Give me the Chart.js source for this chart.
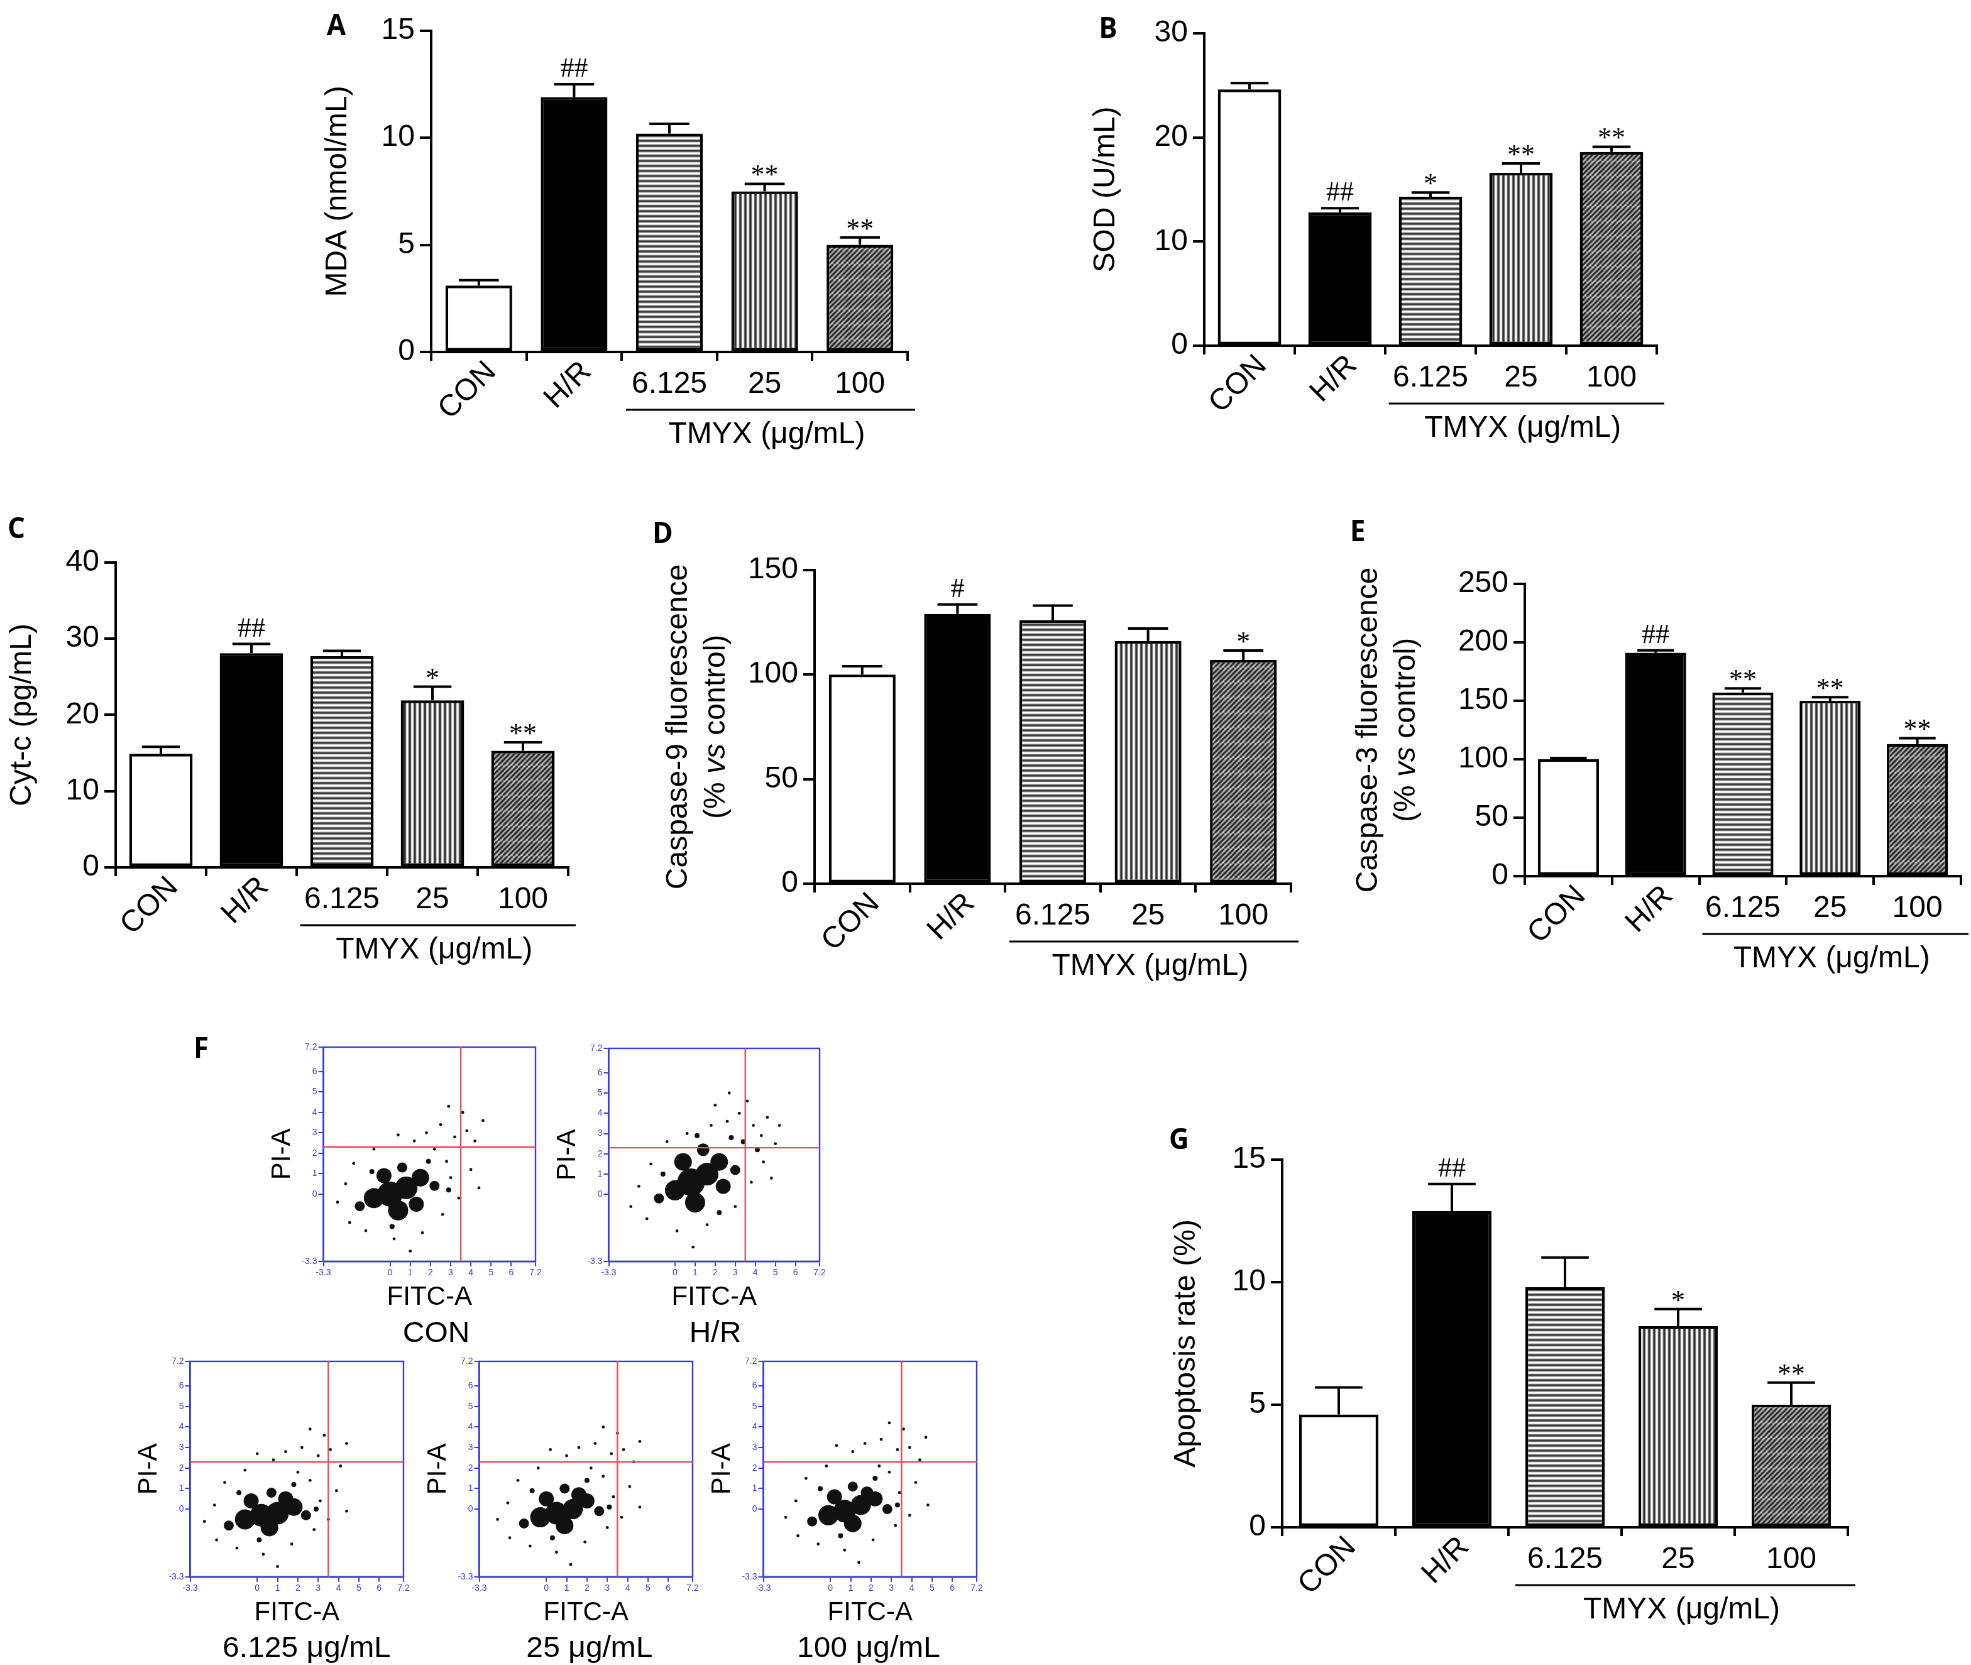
<!DOCTYPE html>
<html lang="en">
<head>
<meta charset="UTF-8">
<title>TMYX panels</title>
<script src="https://cdn.jsdelivr.net/npm/chart.js"></script>
<style>
  html, body { margin: 0; background: #fff; }
  #page { position: relative; width: 1971px; height: 1665px; overflow: hidden; }
  #wrap { position: absolute; left: 0; top: 0; width: 1568px; height: 1325px; transform: scale(1.25702); transform-origin: 0 0; font-family: "Liberation Sans", Arial, sans-serif; }
  .lbl { position: absolute; font-weight: bold; font-size: 22px; font-family: "Open Sans", "Liberation Sans", sans-serif; }
  .cap { position: absolute; font-size: 24px; transform: translateX(-50%); white-space: nowrap; }
  canvas { position: absolute; }
</style>
</head>
<body>
<div id="page">
<div id="wrap">
  <div class="lbl" style="left:260px;top:4px">A</div>
  <div class="lbl" style="left:874px;top:6px">B</div>
  <div class="lbl" style="left:6px;top:404px">C</div>
  <div class="lbl" style="left:519px;top:408px">D</div>
  <div class="lbl" style="left:1074px;top:406px">E</div>
  <div class="lbl" style="left:154px;top:818px">F</div>
  <div class="lbl" style="left:930px;top:890px">G</div>
  <div class="cap" style="left:347px;top:1046px">CON</div>
  <div class="cap" style="left:569px;top:1046px">H/R</div>
  <div class="cap" style="left:244px;top:1296px">6.125 μg/mL</div>
  <div class="cap" style="left:469px;top:1296px">25 μg/mL</div>
  <div class="cap" style="left:691px;top:1296px">100 μg/mL</div>
</div>
</div>
<script>
const categories = ['CON', 'H/R', '6.125', '25', '100'];

const mdaValues = [3.1, 11.9, 10.2, 7.5, 5.0];
const mdaErrors = [0.25, 0.6, 0.45, 0.35, 0.35];
const mdaMarks = ['', '##', '', '**', '**'];

const sodValues = [24.6, 12.8, 14.3, 16.6, 18.6];
const sodErrors = [0.6, 0.4, 0.4, 0.9, 0.5];
const sodMarks = ['', '##', '*', '**', '**'];

const cytValues = [14.9, 28.1, 27.7, 21.9, 15.3];
const cytErrors = [0.9, 1.2, 0.7, 1.8, 1.1];
const cytMarks = ['', '##', '', '*', '**'];

const cas9Values = [100, 129, 126, 116, 107];
const cas9Errors = [4, 4.5, 7, 6, 4.5];
const cas9Marks = ['', '#', '', '', '*'];

const cas3Values = [100, 191, 157, 150, 113];
const cas3Errors = [1, 2, 3.5, 3, 5];
const cas3Marks = ['', '##', '**', '**', '**'];

const apoValues = [4.6, 12.9, 9.8, 8.2, 5.0];
const apoErrors = [1.1, 1.1, 1.2, 0.7, 0.9];
const apoMarks = ['', '##', '', '*', '**'];

// flow cytometry: [x, y, radius] in log units, dense core drawn with larger dots
const conDots = [[0,0,10],[0.8,0.3,9],[1.5,0.8,7],[-0.8,-0.2,8],[0.4,-0.8,8],[1.3,-0.5,6],[-0.3,0.9,6],[2.2,0.4,4],[-1.5,-0.6,4],[0.6,1.3,4],
  [2.8,1.6,1.2],[3.2,2.8,1.2],[2.5,3.4,1.2],[1.8,3.0,1.2],[3.8,3.1,1.2],[4.2,2.6,1.2],[1.2,2.6,1.2],[0.4,2.9,1.2],[3.0,0.8,1.2],[4.0,1.2,1.2],
  [-2.2,0.5,1.2],[-2.0,-1.4,1.2],[-1.2,-1.8,1.2],[0.2,-2.2,1.2],[1.6,-1.9,1.2],[2.6,-1.0,1.2],[3.4,-0.2,1.2],[-1.8,1.5,1.2],[-0.8,2.2,1.2],[2.2,2.2,1.2],
  [3.6,4.0,1.2],[2.9,4.3,1.2],[4.6,3.6,1.2],[1.0,-2.8,1.2],[4.4,0.3,1.2],[-2.6,-0.4,1.2],[1.9,1.6,2],[-0.9,1.1,2],[2.9,0.2,2],[0.1,-1.6,2]];
const hrDots = [[0.8,0.6,11],[1.6,1.0,9],[2.2,1.6,7],[0,0.2,8],[1.0,-0.4,8],[2.4,0.4,6],[0.4,1.6,7],[3.0,1.2,4],[-0.8,-0.2,4],[1.4,2.2,5],
  [3.4,2.6,2],[2.8,2.8,2],[3.9,3.4,1.2],[4.3,2.9,1.2],[2.6,3.6,1.2],[1.8,3.4,1.2],[3.2,4.0,1.2],[4.6,3.8,1.2],[5.0,2.5,1.2],[0.6,3.0,1.2],
  [-1.2,1.5,1.2],[-1.8,0.4,1.2],[-1.4,-1.2,1.2],[0.1,-1.8,1.2],[1.6,-1.5,1.2],[3.0,-0.6,1.2],[3.8,0.6,1.2],[4.4,1.6,1.2],[2.0,4.4,1.2],[3.6,4.6,1.2],
  [-0.4,2.6,1.2],[-2.2,-0.6,1.2],[4.1,2.2,2],[1.1,2.9,2],[-0.6,1.0,2],[2.2,-0.9,2],[5.2,3.4,1.2],[4.8,0.8,1.2],[0.9,-2.6,1.2],[2.7,5.0,1.2]];
const lowDots = [[0.2,-0.3,9],[1.0,-0.2,9],[1.8,0.1,7],[-0.6,-0.5,8],[0.6,-0.9,7],[1.4,0.5,6],[-0.3,0.4,6],[2.4,-0.3,4],[-1.4,-0.8,4],[0.7,0.8,4],
  [2.6,1.4,1.2],[3.0,2.6,1.2],[2.2,3.0,1.2],[1.4,2.8,1.2],[3.6,2.9,1.2],[4.1,2.1,1.2],[0.8,2.4,1.2],[0.0,2.7,1.2],[3.1,0.4,1.2],[3.9,0.9,1.2],
  [-2.1,0.2,1.2],[-2.0,-1.5,1.2],[-1.0,-1.9,1.2],[0.3,-2.2,1.2],[1.7,-1.7,1.2],[2.8,-1.0,1.2],[3.5,-0.5,1.2],[-1.6,1.3,1.2],[-0.6,1.9,1.2],[2.0,1.8,1.2],
  [3.3,3.6,1.2],[2.6,3.9,1.2],[4.4,3.2,1.2],[1.0,-2.8,1.2],[4.4,-0.1,1.2],[-2.6,-0.6,1.2],[1.8,1.2,2],[-0.9,0.8,2],[2.9,0.0,2],[0.1,-1.5,2]];
const midDots = [[0.5,-0.2,9],[1.3,0.0,8],[2.0,0.4,6],[-0.3,-0.4,8],[0.9,-0.8,7],[1.6,0.7,6],[0,0.5,6],[2.6,-0.1,4],[-1.1,-0.7,4],[0.9,1.0,4],
  [2.8,1.6,1.2],[3.2,2.7,1.2],[2.4,3.2,1.2],[1.6,3.0,1.2],[3.8,2.9,1.2],[4.3,2.3,1.2],[1.0,2.6,1.2],[0.2,2.9,1.2],[3.3,0.6,1.2],[4.1,1.1,1.2],
  [-1.9,0.3,1.2],[-1.8,-1.4,1.2],[-0.8,-1.8,1.2],[0.5,-2.1,1.2],[1.9,-1.6,1.2],[3.0,-0.9,1.2],[3.7,-0.4,1.2],[-1.4,1.4,1.2],[-0.4,2.0,1.2],[2.2,2.0,1.2],
  [3.5,3.7,1.2],[2.8,4.0,1.2],[4.6,3.3,1.2],[1.2,-2.7,1.2],[4.6,0.1,1.2],[-2.4,-0.5,1.2],[2.0,1.4,2],[-0.7,0.9,2],[3.1,0.1,2],[0.3,-1.4,2]];
const highDots = [[0.7,-0.1,9],[1.5,0.2,8],[2.2,0.5,6],[-0.1,-0.3,8],[1.1,-0.7,7],[1.8,0.8,5],[0.2,0.6,6],[2.8,0.0,4],[-0.9,-0.6,4],[1.1,1.1,4],
  [2.9,1.8,1.2],[3.3,2.9,1.2],[2.5,3.4,1.2],[1.7,3.2,1.2],[3.9,3.0,1.2],[4.4,2.4,1.2],[1.1,2.8,1.2],[0.3,3.1,1.2],[3.4,0.8,1.2],[4.2,1.3,1.2],
  [-1.7,0.4,1.2],[-1.6,-1.3,1.2],[-0.6,-1.7,1.2],[0.7,-2.0,1.2],[2.1,-1.5,1.2],[3.2,-0.8,1.2],[3.9,-0.3,1.2],[-1.2,1.5,1.2],[-0.2,2.1,1.2],[2.4,2.1,1.2],
  [3.6,3.9,1.2],[2.9,4.2,1.2],[4.7,3.5,1.2],[1.4,-2.6,1.2],[4.8,0.2,1.2],[-2.2,-0.4,1.2],[2.2,1.5,2],[-0.5,1.0,2],[3.3,0.2,2],[0.5,-1.3,2]];
const flowTicks = [-3.3, 0, 1, 2, 3, 4, 5, 6, 7.2];
const flowGate = [3.5, 2.3];

const FONT = '"Liberation Sans", Arial, sans-serif';
const wrap = document.getElementById('wrap');

function pattern(kind) {
  const c = document.createElement('canvas');
  c.width = 12; c.height = 12;
  const g = c.getContext('2d');
  g.fillStyle = '#fff'; g.fillRect(0, 0, 12, 12);
  g.strokeStyle = '#000'; g.lineWidth = 1.6;
  g.beginPath();
  if (kind === 'h') { [2, 6, 10].forEach(y => { g.moveTo(0, y); g.lineTo(12, y); }); }
  if (kind === 'v') { [2, 6, 10].forEach(x => { g.moveTo(x, 0); g.lineTo(x, 12); }); }
  if (kind === 'd') { for (let k = -12; k <= 24; k += 4) { g.moveTo(k, 12); g.lineTo(k + 12, 0); } }
  g.stroke();
  return g.createPattern(c, 'repeat');
}

function addCanvas(left, top, w, h) {
  const c = document.createElement('canvas');
  c.width = w; c.height = h;
  c.style.left = left + 'px'; c.style.top = top + 'px';
  c.style.width = w + 'px'; c.style.height = h + 'px';
  wrap.appendChild(c);
  return c;
}

const barExtras = {
  id: 'barExtras',
  afterDatasetsDraw(chart, args, o) {
    const ctx = chart.ctx, a = chart.chartArea;
    const xs = chart.scales.x, ys = chart.scales.y;
    const meta = chart.getDatasetMeta(0);
    ctx.save();
    ctx.strokeStyle = '#000'; ctx.fillStyle = '#000'; ctx.lineWidth = 2;
    meta.data.forEach((bar, i) => {
      const top = ys.getPixelForValue(o.values[i]);
      const eTop = ys.getPixelForValue(o.values[i] + o.errors[i]);
      const half = bar.width * 0.3;
      ctx.beginPath();
      ctx.moveTo(bar.x, top); ctx.lineTo(bar.x, eTop);
      ctx.moveTo(bar.x - half, eTop); ctx.lineTo(bar.x + half, eTop);
      ctx.stroke();
      if (o.marks[i]) {
        ctx.font = '22px "Liberation Serif", serif';
        ctx.textAlign = 'center'; ctx.textBaseline = 'alphabetic';
        ctx.fillText(o.marks[i], bar.x, eTop - (o.marks[i][0] === '*' ? 0 : 6));
      }
    });
    // category labels
    ctx.font = '24px ' + FONT;
    categories.forEach((c, i) => {
      const x = xs.getPixelForValue(i);
      if (i < 2) {
        ctx.save();
        ctx.translate(x + 10, a.bottom + 12);
        ctx.rotate(-Math.PI / 4);
        ctx.textAlign = 'right'; ctx.textBaseline = 'middle';
        ctx.fillText(c, 0, 0);
        ctx.restore();
      } else {
        ctx.textAlign = 'center'; ctx.textBaseline = 'top';
        ctx.fillText(c, x, a.bottom + 14);
      }
    });
    const bw = meta.data[2].width;
    const lx = xs.getPixelForValue(2) - bw / 2 - 8;
    const ly = a.bottom + 46;
    ctx.lineWidth = 1.5;
    ctx.beginPath(); ctx.moveTo(lx, ly); ctx.lineTo(a.right + 6, ly); ctx.stroke();
    ctx.textAlign = 'center'; ctx.textBaseline = 'top';
    ctx.fillText('TMYX (μg/mL)', (lx + a.right) / 2, ly + 8);
    // y title (lines of [text, italic] parts)
    ctx.textBaseline = 'middle';
    const mid = (a.top + a.bottom) / 2;
    o.title.forEach((line, li) => {
      ctx.save();
      ctx.translate(a.left - o.yw + 14 + li * 30, mid);
      ctx.rotate(-Math.PI / 2);
      let total = 0;
      line.forEach(p => { ctx.font = (p[1] ? 'italic ' : '') + '24px ' + FONT; total += ctx.measureText(p[0]).width; });
      let x = -total / 2;
      ctx.textAlign = 'left';
      line.forEach(p => { ctx.font = (p[1] ? 'italic ' : '') + '24px ' + FONT; ctx.fillText(p[0], x, 0); x += ctx.measureText(p[0]).width; });
      ctx.restore();
    });
    ctx.restore();
  }
};

function barChart(p) {
  const [pl, pt, pr, pb] = p.box;
  const left = pl - p.yw, top = pt - 16, w = pr - left + 14, h = pb + 120 - top;
  const c = addCanvas(left, top, w, h);
  const bgs = ['#fff', '#000', pattern('h'), pattern('v'), pattern('d')];
  new Chart(c.getContext('2d'), {
    type: 'bar',
    data: { labels: categories, datasets: [{ data: p.values, backgroundColor: bgs, borderColor: '#000', borderWidth: 2.2, borderSkipped: false, categoryPercentage: 0.7, barPercentage: 1 }] },
    options: {
      responsive: false, animation: false, devicePixelRatio: 2,
      layout: { padding: { top: 16, right: 14, left: 0, bottom: 0 } },
      plugins: { legend: { display: false }, tooltip: { enabled: false },
        barExtras: { values: p.values, errors: p.errors, marks: p.marks, title: p.title, yw: p.yw } },
      scales: {
        x: { grid: { drawOnChartArea: false, drawTicks: true, tickLength: 7, color: '#000', lineWidth: 2 },
             border: { color: '#000', width: 2 }, ticks: { color: 'rgba(0,0,0,0)', font: { size: 8 } },
             afterFit: s => { s.height = h - (pb - top); } },
        y: { min: 0, max: p.max, ticks: { stepSize: p.step, color: '#000', font: { size: 24, family: FONT }, padding: 4 },
             grid: { drawOnChartArea: false, tickLength: 9, color: '#000', lineWidth: 2 },
             border: { color: '#000', width: 2 }, afterFit: s => { s.width = p.yw; } }
      }
    },
    plugins: [barExtras]
  });
}

barChart({ box: [343, 22, 722, 280], yw: 88, max: 15, step: 5, values: mdaValues, errors: mdaErrors, marks: mdaMarks, title: [[['MDA (nmol/mL)', false]]] });
barChart({ box: [958, 24, 1318, 275], yw: 92, max: 30, step: 10, values: sodValues, errors: sodErrors, marks: sodMarks, title: [[['SOD (U/mL)', false]]] });
barChart({ box: [92, 445, 452, 690], yw: 88, max: 40, step: 10, values: cytValues, errors: cytErrors, marks: cytMarks, title: [[['Cyt-c (pg/mL)', false]]] });
barChart({ box: [648, 451, 1027, 703], yw: 122, max: 150, step: 50, values: cas9Values, errors: cas9Errors, marks: cas9Marks,
  title: [[['Caspase-9 fluorescence', false]], [['(% ', false], ['vs', true], [' control)', false]]] });
barChart({ box: [1213, 462, 1560, 697], yw: 138, max: 250, step: 50, values: cas3Values, errors: cas3Errors, marks: cas3Marks,
  title: [[['Caspase-3 fluorescence', false]], [['(% ', false], ['vs', true], [' control)', false]]] });
barChart({ box: [1020, 920, 1470, 1215], yw: 90, max: 15, step: 5, values: apoValues, errors: apoErrors, marks: apoMarks, title: [[['Apoptosis rate (%)', false]]] });

const flowExtras = {
  id: 'flowExtras',
  beforeDatasetsDraw(chart) {
    const ctx = chart.ctx, a = chart.chartArea;
    ctx.save();
    ctx.strokeStyle = '#3a3ae0'; ctx.lineWidth = 1.2;
    ctx.strokeRect(a.left, a.top, a.right - a.left, a.bottom - a.top);
    ctx.restore();
  },
  afterDatasetsDraw(chart) {
    const ctx = chart.ctx, a = chart.chartArea, xs = chart.scales.x, ys = chart.scales.y;
    ctx.save();
    ctx.strokeStyle = '#e05060'; ctx.lineWidth = 1.2;
    const gx = xs.getPixelForValue(flowGate[0]), gy = ys.getPixelForValue(flowGate[1]);
    ctx.beginPath();
    ctx.moveTo(gx, a.top); ctx.lineTo(gx, a.bottom);
    ctx.moveTo(a.left, gy); ctx.lineTo(a.right, gy);
    ctx.stroke();
    ctx.restore();
  }
};

function flowChart(boxLeft, boxTop, dots) {
  const left = boxLeft - 48, top = boxTop - 8, w = 170 + 48 + 8, h = 170 + 8 + 46;
  const c = addCanvas(left, top, w, h);
  const axis = (title) => ({
    type: 'linear', min: -3.3, max: 7.2,
    afterBuildTicks: s => { s.ticks = flowTicks.map(v => ({ value: v })); },
    ticks: { color: '#3a3ae0', font: { size: 7 }, autoSkip: false, maxRotation: 0, padding: 1 },
    grid: { drawOnChartArea: false, tickLength: 4, color: '#3a3ae0' },
    border: { color: '#3a3ae0', width: 1.2 },
    title: { display: true, text: title, color: '#000', font: { size: 21, family: FONT }, padding: 2 }
  });
  new Chart(c.getContext('2d'), {
    type: 'scatter',
    data: { datasets: [{ data: dots.map(d => ({ x: d[0], y: d[1], r: d[2] })), backgroundColor: '#111', borderWidth: 0,
      pointRadius: ctx => ctx.raw.r }] },
    options: {
      responsive: false, animation: false, devicePixelRatio: 2,
      layout: { padding: { top: 8, right: 8 } },
      plugins: { legend: { display: false }, tooltip: { enabled: false } },
      scales: { x: axis('FITC-A'), y: axis('PI-A') }
    },
    plugins: [flowExtras]
  });
}

flowChart(258, 831, conDots);
flowChart(485, 831, hrDots);
flowChart(152, 1082, lowDots);
flowChart(382, 1082, midDots);
flowChart(608, 1082, highDots);
</script>
</body>
</html>
